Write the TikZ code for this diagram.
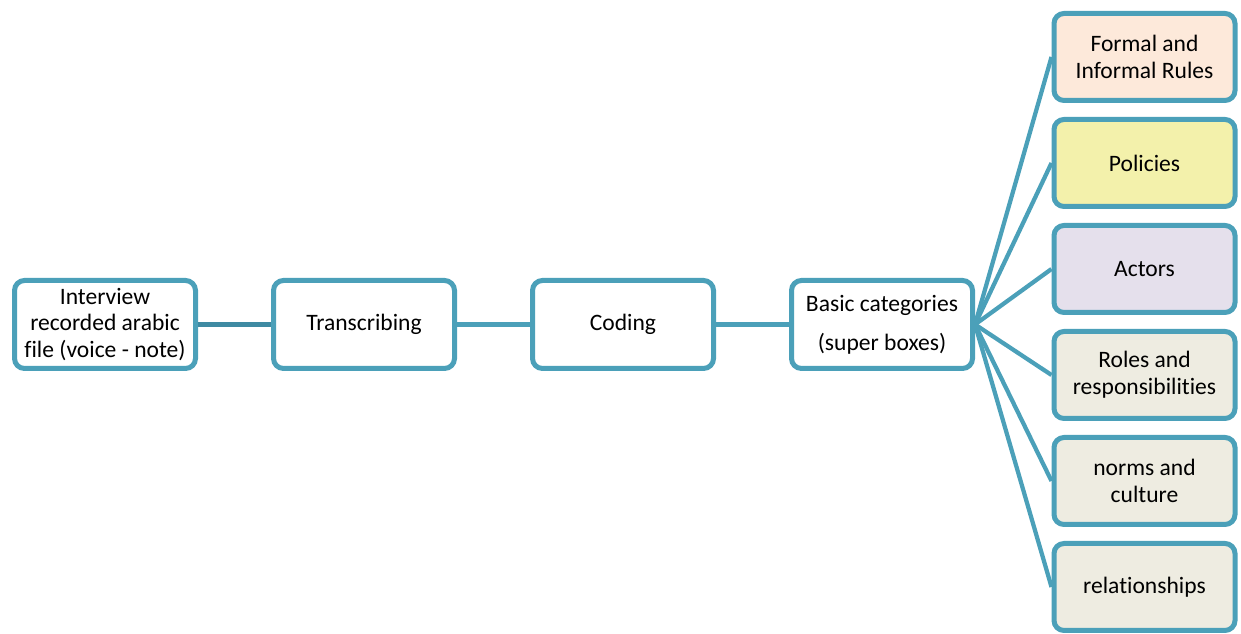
\documentclass[tikz,border=0pt]{standalone}
\usepackage{fontspec}
\setmainfont{Carlito}[Ligatures=NoCommon]
\usetikzlibrary{positioning}
\definecolor{boxline}{RGB}{75, 160, 185}
\definecolor{linkdark}{RGB}{62, 138, 162}
\definecolor{rulefill}{RGB}{253, 233, 218}
\definecolor{policyfill}{RGB}{243, 241, 171}
\definecolor{actorfill}{RGB}{229, 224, 236}
\definecolor{catfill}{RGB}{238, 236, 225}

\begin{document}
\begin{tikzpicture}[
    stepbox/.style={draw=boxline, line width=0.1cm, rounded corners=0.2cm,
      fill=white, minimum width=3.62cm, minimum height=1.76cm, align=center,
      inner sep=1pt, font=\fontsize{13.4}{15.2}\selectfont},
    catbox/.style={stepbox, minimum height=1.74cm, fill=catfill},
    link/.style={boxline, line width=0.085cm}
  ]
  \useasboundingbox (0,0) rectangle (24.82,12.68);

  % Main process row
  \node[stepbox] (interview) at (2.10, 6.19) {Interview\\recorded arabic\\file (voice - note)};
  \node[stepbox, right=1.46cm of interview] (transcribe) {Transcribing};
  \node[stepbox, right=1.46cm of transcribe] (coding) {Coding};
  \node[stepbox, right=1.46cm of coding] (basic) {Basic categories\\[0.25cm](super boxes)};

  % Super boxes
  \node[catbox, fill=rulefill] (rules) at (22.89, 11.54) {Formal and\\Informal Rules};
  \node[catbox, fill=policyfill, below=0.28cm of rules] (policies) {Policies};
  \node[catbox, fill=actorfill, below=0.28cm of policies] (actors) {Actors};
  \node[catbox, below=0.28cm of actors] (roles) {Roles and\\responsibilities};
  \node[catbox, below=0.28cm of roles] (norms) {norms and\\culture};
  \node[catbox, below=0.28cm of norms] (relations) {relationships};

  % Connectors
  \draw[link, linkdark] (interview) -- (transcribe);
  \draw[link] (transcribe) -- (coding);
  \draw[link] (coding) -- (basic);
  \foreach \cat in {rules, policies, actors, roles, norms, relations} {
    \draw[link] (basic.east) -- (\cat.west);
  }
\end{tikzpicture}
\end{document}
